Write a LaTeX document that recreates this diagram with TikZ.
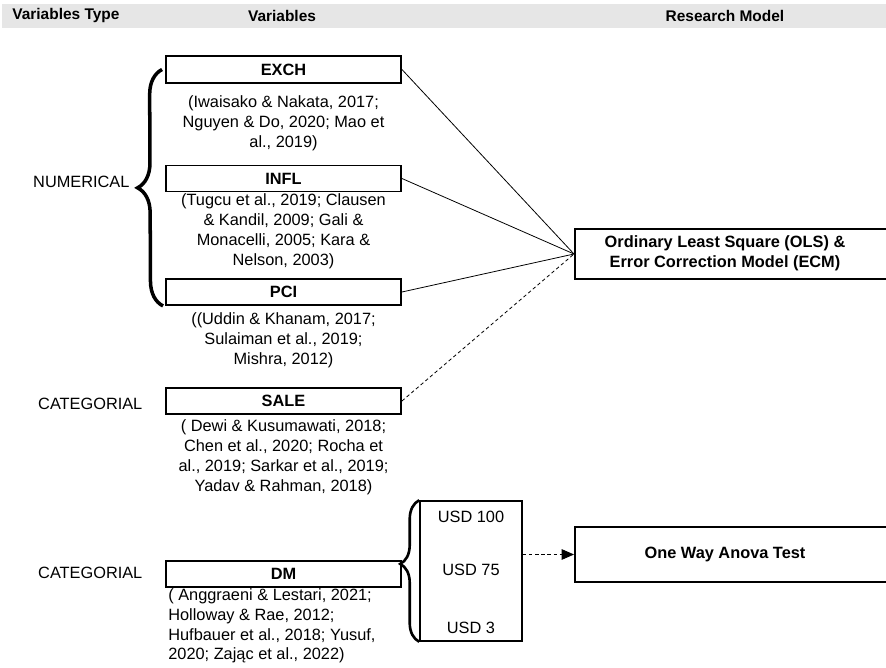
\documentclass[tikz,border=0pt]{standalone}
\usepackage{fontspec}
\setmainfont{Liberation Sans}
\usetikzlibrary{arrows.meta,decorations.pathreplacing}
\definecolor{headgray}{RGB}{230,230,230}

\begin{document}
\begin{tikzpicture}[x=0.02cm, y=-0.02cm,
      every node/.style={font=\fontsize{9.3}{11.3}\selectfont},
      varbox/.style={draw, line width=1.1pt, minimum width=4.7cm, minimum height=0.52cm, inner sep=0pt, font=\fontsize{9.3}{11.3}\selectfont\bfseries},  % variable boxes
      refs/.style={align=center, inner sep=0pt},
      headtext/.style={font=\fontsize{8.8}{10}\selectfont\bfseries, inner sep=0pt},
      modelbox/.style={draw, line width=1.1pt, minimum width=6.6cm, anchor=west},
      modeltext/.style={align=center, inner sep=0pt, font=\fontsize{9.3}{11.3}\selectfont\bfseries},
      link/.style={line width=0.45pt},
      bigbrace/.style={decorate, decoration={brace, amplitude=0.5cm}, line width=2pt},
      smallbrace/.style={decorate, decoration={brace, amplitude=0.38cm, aspect=0.55}, line width=1.5pt}
    ]
    \useasboundingbox (0,0) rectangle (886,668);

    % header row
    \fill[headgray] (2,4) rectangle (886,28);
    \node[headtext, anchor=west] (htype) at (12,16) {Variables Type};
    \node[headtext] (hvar) at (282,16) {Variables};
    \node[headtext] (hmodel) at (725,16) {Research Model};

    % variable types
    \node[anchor=west] (numerical) at (27,182) {NUMERICAL};
    \node[anchor=west] (categ1) at (32,404) {CATEGORIAL};
    \node[anchor=west] (categ2) at (32,573) {CATEGORIAL};

    % variables
    \node[varbox, minimum height=0.54cm] (exch) at (283.5,69.5) {EXCH};
    \node[refs] (exchref) at (283.5,123) {(Iwaisako \& Nakata, 2017;\\Nguyen \& Do, 2020; Mao et\\al., 2019)};
    \node[varbox] (infl) at (283.5,178.5) {INFL};
    \node[refs] (inflref) at (283.5,231.5) {(Tugcu et al., 2019; Clausen\\\& Kandil, 2009; Gali \&\\Monacelli, 2005; Kara \&\\Nelson, 2003)};
    \node[varbox] (pci) at (283.5,292) {PCI};
    \node[refs] (pciref) at (283.5,340) {((Uddin \& Khanam, 2017;\\Sulaiman et al., 2019;\\Mishra, 2012)};
    \node[varbox] (sale) at (283.5,401) {SALE};
    \node[refs] (saleref) at (283.5,457) {( Dewi \& Kusumawati, 2018;\\Chen et al., 2020; Rocha et\\al., 2019; Sarkar et al., 2019;\\Yadav \& Rahman, 2018)};
    \node[varbox] (dm) at (283.5,574) {DM};
    \node[refs, align=left, anchor=west] (dmref) at (168,626) {( Anggraeni \& Lestari, 2021;\\Holloway \& Rae, 2012;\\Hufbauer et al., 2018; Yusuf,\\2020; Zając et al., 2022)};

    % price levels of DM
    \node[draw, line width=0.9pt, minimum width=2.04cm, minimum height=2.8cm] (usd) at (471,571) {};
    \node (usd100) at (471,517) {USD 100};
    \node (usd75) at (471,570) {USD 75};
    \node (usd3) at (471,628) {USD 3};

    % research models
    \node[modelbox, minimum height=1cm] (ols) at (574,254) {};
    \node[modeltext] (olstext) at (725,253) {Ordinary Least Square (OLS) \&\\ Error Correction Model (ECM)};
    \node[modelbox, minimum height=1.1cm] (anova) at (574,554.5) {};
    \node[modeltext] (anovatext) at (725,554) {One Way Anova Test};

    % braces
    \draw[bigbrace] ([xshift=-0.04cm]pci.south west) -- ([xshift=-0.06cm]exch.west);
    \draw[smallbrace] (usd.south west) -- (usd.north west);

    % connectors
    \draw[link] (exch.east) -- (ols.west);
    \draw[link] (infl.east) -- (ols.west);
    \draw[link] (pci.east) -- (ols.west);
    \draw[link, dash pattern=on 2pt off 1.5pt] (sale.east) -- (ols.west);
    \draw[link, dash pattern=on 2pt off 1.5pt, -{Triangle[length=7pt, width=6pt]}] (usd.east |- anova.west) -- (anova.west);
\end{tikzpicture}
\end{document}
